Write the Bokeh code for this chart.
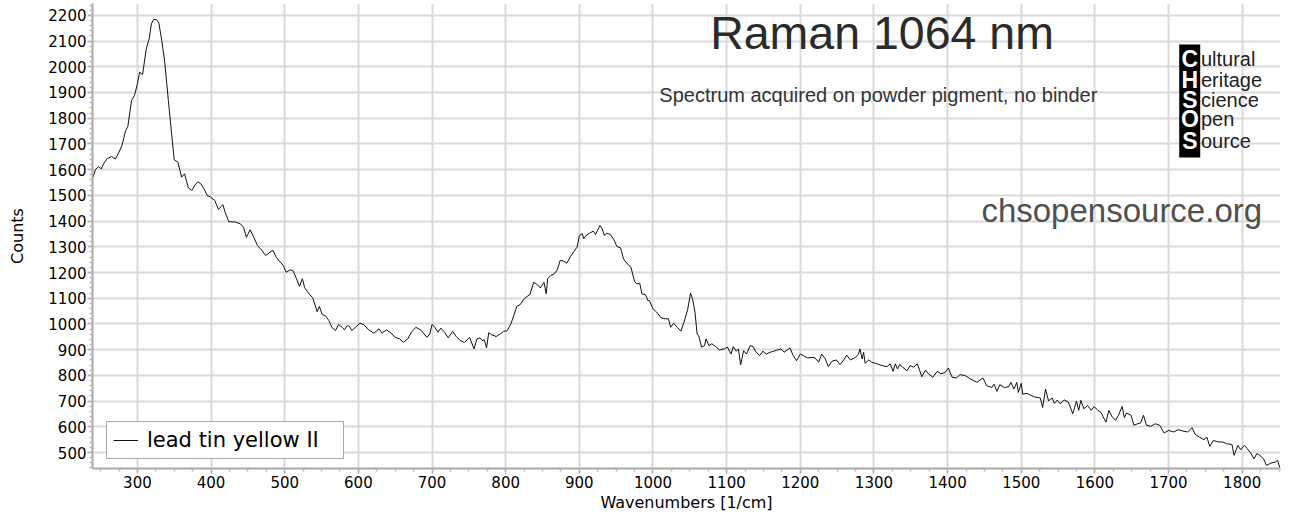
from bokeh.plotting import figure
from bokeh.models import (SingleIntervalTicker, Label, BoxAnnotation, Range1d)
from bokeh.embed import file_html
from bokeh.resources import INLINE

# ---- data ----
wavenumber = [
    239, 243, 247, 251, 254, 259, 265, 270, 275, 279, 284, 287, 292, 296, 300,
    303, 307, 312, 316, 319, 322, 326, 329, 333, 337, 342, 346, 350, 355, 360,
    364, 369, 374, 378, 382, 386, 390, 395, 399, 405, 410, 416, 419, 424, 433,
    440, 444, 448, 453, 458, 463, 469, 474, 480, 484, 489, 494, 498, 502, 507,
    511, 516, 520, 524, 527, 533, 538, 544, 547, 551, 555, 560, 564, 569, 573,
    578, 581, 585, 588, 591, 596, 602, 607, 614, 621, 628, 632, 638, 643, 650,
    656, 661, 667, 672, 678, 685, 693, 697, 700, 703, 708, 712, 717, 722, 728,
    733, 738, 744, 751, 757, 761, 765, 768, 771, 774, 777, 781, 787, 793, 797,
    802, 807, 811, 815, 820, 824, 829, 833, 838, 843, 847, 852, 855, 857, 861,
    866, 870, 874, 879, 883, 888, 893, 897, 900, 904, 906, 909, 914, 919, 922,
    928, 931, 934, 937, 942, 947, 951, 956, 960, 965, 970, 975, 978, 982, 985,
    990, 993, 995, 1000, 1005, 1011, 1017, 1021, 1024, 1028, 1033, 1038, 1042, 1047, 1051,
    1054, 1057, 1060, 1062, 1066, 1070, 1072, 1076, 1080, 1085, 1090, 1097, 1101, 1106, 1109,
    1113, 1116, 1119, 1123, 1127, 1132, 1136, 1140, 1145, 1149, 1154, 1159, 1164, 1169, 1174,
    1178, 1186, 1190, 1195, 1200, 1204, 1210, 1216, 1220, 1225, 1229, 1234, 1238, 1243, 1249,
    1254, 1260, 1263, 1268, 1275, 1279, 1281, 1284, 1286, 1288, 1293, 1297, 1304, 1311, 1318,
    1322, 1326, 1329, 1332, 1335, 1339, 1345, 1349, 1354, 1359, 1365, 1370, 1374, 1380, 1386,
    1391, 1397, 1401, 1406, 1412, 1417, 1424, 1431, 1440, 1448, 1453, 1460, 1463, 1467, 1471,
    1477, 1483, 1486, 1490, 1494, 1496, 1500, 1502, 1508, 1517, 1526, 1529, 1533, 1537, 1542,
    1545, 1549, 1553, 1558, 1564, 1570, 1575, 1578, 1581, 1585, 1590, 1595, 1599, 1604, 1608,
    1615, 1619, 1623, 1628, 1632, 1637, 1640, 1643, 1649, 1653, 1658, 1662, 1666, 1670, 1676,
    1682, 1688, 1694, 1700, 1707, 1713, 1719, 1726, 1732, 1736, 1742, 1748, 1752, 1756, 1761,
    1768, 1774, 1779, 1786, 1789, 1794, 1798, 1803, 1807, 1812, 1816, 1820, 1824, 1829, 1833,
    1839, 1845, 1848, 1851,
]
counts = [
    1566, 1600, 1612, 1603, 1623, 1643, 1651, 1641, 1668, 1694, 1752, 1768, 1869, 1888, 1934,
    1979, 1970, 2070, 2109, 2167, 2184, 2183, 2171, 2103, 2020, 1869, 1752, 1638, 1629, 1571,
    1584, 1530, 1519, 1540, 1553, 1545, 1527, 1499, 1494, 1480, 1445, 1464, 1435, 1398, 1396,
    1389, 1376, 1337, 1366, 1337, 1305, 1286, 1266, 1279, 1286, 1257, 1240, 1227, 1201, 1210,
    1208, 1176, 1146, 1176, 1141, 1117, 1102, 1048, 1068, 1036, 1033, 1013, 987, 974, 998,
    987, 977, 994, 990, 974, 987, 1003, 998, 977, 964, 981, 964, 977, 968, 948,
    942, 929, 942, 968, 987, 976, 948, 961, 998, 990, 968, 984, 968, 946, 971,
    951, 936, 928, 948, 903, 942, 946, 936, 938, 907, 966, 958, 951, 962, 971,
    974, 1000, 1033, 1068, 1076, 1094, 1107, 1114, 1162, 1153, 1140, 1162, 1117, 1176, 1188,
    1195, 1210, 1247, 1244, 1236, 1262, 1283, 1299, 1344, 1351, 1331, 1344, 1353, 1361, 1348,
    1383, 1370, 1344, 1353, 1348, 1327, 1301, 1296, 1253, 1234, 1221, 1165, 1156, 1158, 1117,
    1114, 1091, 1091, 1059, 1046, 1024, 1020, 1020, 987, 1003, 987, 972, 1007, 1055, 1120,
    1094, 1046, 959, 955, 910, 916, 942, 916, 923, 912, 899, 903, 910, 883, 912,
    894, 903, 841, 896, 883, 916, 912, 890, 877, 894, 883, 890, 894, 899, 903,
    890, 907, 879, 857, 883, 877, 868, 870, 868, 851, 883, 864, 834, 855, 860,
    842, 864, 879, 860, 870, 883, 903, 864, 890, 847, 860, 851, 845, 838, 834,
    845, 816, 845, 825, 842, 832, 818, 838, 832, 845, 795, 821, 806, 793, 816,
    806, 812, 829, 793, 790, 803, 799, 786, 773, 790, 760, 753, 766, 738, 764,
    753, 756, 773, 747, 773, 734, 769, 727, 730, 717, 712, 675, 747, 701, 712,
    691, 704, 689, 705, 696, 651, 700, 664, 703, 670, 683, 664, 679, 664, 657,
    618, 664, 641, 625, 645, 679, 636, 654, 645, 606, 612, 615, 645, 606, 602,
    612, 606, 576, 586, 580, 589, 584, 580, 597, 571, 560, 550, 560, 524, 547,
    541, 541, 534, 532, 489, 528, 511, 528, 515, 496, 476, 496, 489, 476, 450,
    459, 463, 470, 441,
]
series_name = "lead tin yellow II"
x_label = "Wavenumbers [1/cm]"
y_label = "Counts"
title_text = "Raman 1064 nm"
subtitle_text = "Spectrum acquired on powder pigment, no binder"
site_text = "chsopensource.org"
logo_letters = ["C", "H", "S", "O", "S"]
logo_words = ["ultural", "eritage", "cience", "pen", "ource"]

p = figure(width=1290, height=520, output_backend="svg", toolbar_location=None,
           x_range=Range1d(239, 1852), y_range=Range1d(438, 2246),
           min_border_left=92, min_border_right=10, min_border_top=3,
           min_border_bottom=52)
p.outline_line_color = None
p.background_fill_color = "white"
p.border_fill_color = "white"

p.xaxis.ticker = SingleIntervalTicker(interval=100, num_minor_ticks=4)
p.yaxis.ticker = SingleIntervalTicker(interval=100, num_minor_ticks=5)
for ax in (p.xaxis[0], p.yaxis[0]):
    ax.axis_line_color = "#a8a8a8"
    ax.axis_line_width = 2
    ax.major_tick_line_color = "#a8a8a8"
    ax.minor_tick_line_color = "#b8b8b8"
    ax.major_tick_line_width = 1.5
    ax.minor_tick_line_width = 1.5
    ax.major_tick_in = 0
    ax.major_tick_out = 5
    ax.minor_tick_in = 0
    ax.minor_tick_out = 3
    ax.major_label_text_font = "DejaVu Sans"
    ax.major_label_text_font_size = "15px"
    ax.major_label_text_color = "#000000"
    ax.axis_label_text_font = "DejaVu Sans"
    ax.axis_label_text_font_size = "16px"
    ax.axis_label_text_font_style = "normal"
    ax.axis_label_text_color = "#000000"

p.xaxis.axis_label = x_label
p.yaxis.axis_label = y_label
p.xaxis.major_label_standoff = 2
p.yaxis.major_label_standoff = 1
p.xaxis.axis_label_standoff = 2
p.yaxis.axis_label_standoff = 18

p.xgrid.ticker = p.xaxis.ticker
p.ygrid.ticker = p.yaxis.ticker
for g in (p.xgrid[0], p.ygrid[0]):
    g.grid_line_color = "#dadada"
    g.grid_line_width = 2

p.line(wavenumber, counts, line_color="#111111", line_width=1,
       legend_label=series_name)

lg = p.legend[0]
lg.location = (14, 9)
lg.padding = 6
lg.margin = 0
lg.glyph_width = 25
lg.label_standoff = 9
lg.label_width = 190
lg.label_text_font = "DejaVu Sans"
lg.label_text_font_size = "21px"
lg.label_text_color = "#000000"
lg.border_line_color = "#555555"
lg.border_line_width = 1.5
lg.background_fill_color = "white"
lg.background_fill_alpha = 1.0

# title texts
p.add_layout(Label(x=1311, y=2133, text=title_text, text_align="center",
                   text_baseline="alphabetic", text_font="Liberation Sans",
                   text_font_size="46.5px", text_color="#2a2a2a"))
p.add_layout(Label(x=1306, y=1892, text=subtitle_text, text_align="center",
                   text_baseline="alphabetic", text_font="Liberation Sans",
                   text_font_size="20px", text_color="#333333"))
p.add_layout(Label(x=1827, y=1441, text=site_text, text_align="right",
                   text_baseline="alphabetic", text_font="Liberation Sans",
                   text_font_size="33px", text_color="#505050"))

# logo
p.add_layout(BoxAnnotation(left=1714.5, right=1743, bottom=1647, top=2087,
                           fill_color="black", fill_alpha=1.0, line_color=None,
                           level="annotation"))
logo_baselines = [2029, 1949, 1870, 1796, 1712]
for letter, word, yb in zip(logo_letters, logo_words, logo_baselines):
    p.add_layout(Label(x=1729, y=yb, text=letter, text_align="center",
                       text_baseline="alphabetic", text_font="Liberation Sans",
                       text_font_style="bold", text_font_size="23px",
                       text_color="white"))
    p.add_layout(Label(x=1744, y=yb, text=word, text_align="left",
                       text_baseline="alphabetic", text_font="Liberation Sans",
                       text_font_size="20px", text_color="#222222"))

open("out.html", "w").write(file_html(p, INLINE))
